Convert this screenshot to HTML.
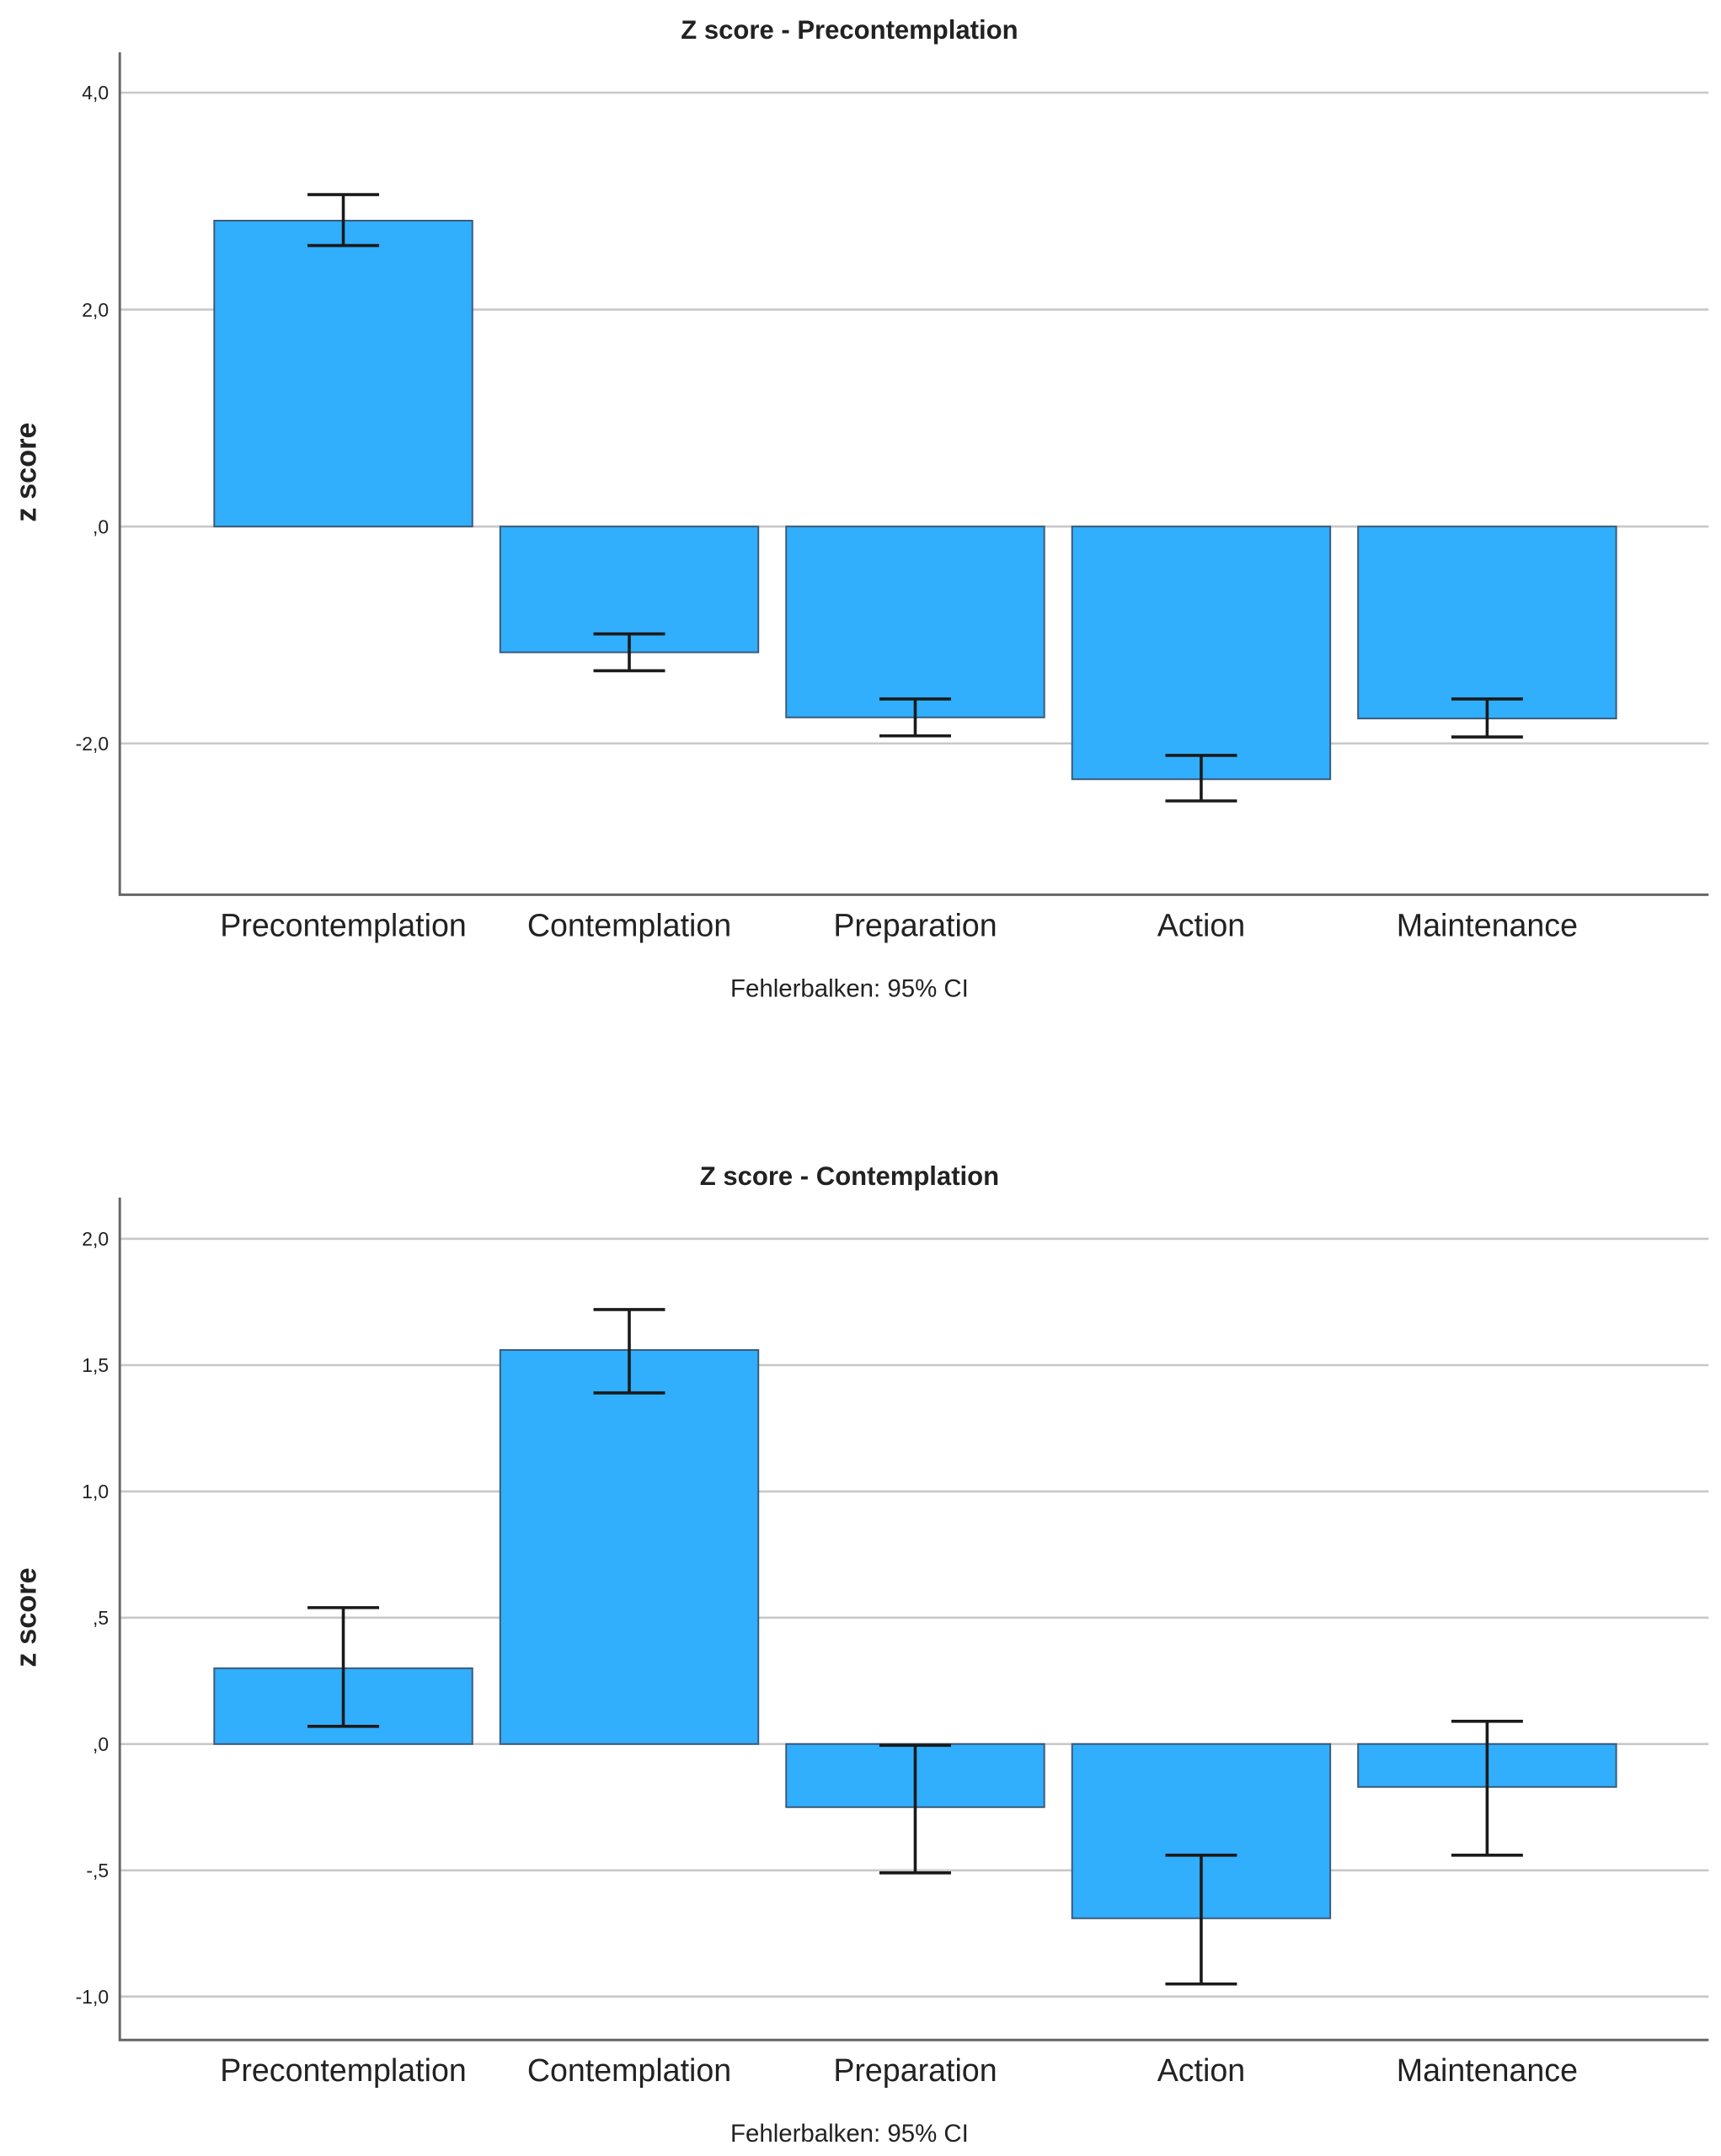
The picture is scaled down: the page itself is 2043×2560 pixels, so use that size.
<!DOCTYPE html>
<html><head><meta charset="utf-8"><style>
html,body{margin:0;padding:0;background:#fff;width:2043px;height:2560px;overflow:hidden}
svg{display:block}
text{font-family:"Liberation Sans",sans-serif;fill:#222}
</style></head><body>
<svg id="root" width="2043" height="2560" viewBox="0 0 1250 1566.3" preserveAspectRatio="none" xmlns="http://www.w3.org/2000/svg"></svg>
<script>
const categories = ["Precontemplation","Contemplation","Preparation","Action","Maintenance"];
const c1Values = [2.82,-1.16,-1.76,-2.33,-1.77];
const c1Upper = [3.06,-0.99,-1.59,-2.11,-1.59];
const c1Lower = [2.59,-1.33,-1.93,-2.53,-1.94];
const c1Ticks = [4,2,0,-2];
const c1TickLabels = ["4,0","2,0",",0","-2,0"];
const c2Values = [0.30,1.56,-0.25,-0.69,-0.17];
const c2Upper = [0.54,1.72,-0.005,-0.44,0.09];
const c2Lower = [0.07,1.39,-0.51,-0.95,-0.44];
const c2Ticks = [2,1.5,1,0.5,0,-0.5,-1];
const c2TickLabels = ["2,0","1,5","1,0",",5",",0","-,5","-1,0"];

const NS="http://www.w3.org/2000/svg";
const root=document.getElementById('root');
function mk(tag,attrs,parent){const e=document.createElementNS(NS,tag);for(const k in attrs)e.setAttribute(k,attrs[k]);parent.appendChild(e);return e;}

function drawChart(cfg){
  const g=mk('g',{},root);
  
  
  const yScale=v=>cfg.zeroY-v*cfg.ppu;
  const bandStart=145.5, band=207.7, barW=187.5;
  const xCenter=i=>bandStart+band*i+band/2;
  // gridlines
  cfg.ticks.forEach((t,i)=>{
    const y=yScale(t);
    const l=mk('line',{x1:87,x2:1241,y1:y,y2:y,stroke:'#c8c8c8','stroke-width':1.6},g);
    
    
    const tx=mk('text',{x:79,y:y+5,'font-size':14,'text-anchor':'end'},g);
    tx.textContent=cfg.tickLabels[i];
    
    
  });
  // bars
  cfg.values.forEach((v,i)=>{
    const y0=yScale(0), y1=yScale(v);
    const r=mk('rect',{x:xCenter(i)-barW/2,y:Math.min(y0,y1),width:barW,height:Math.abs(y1-y0),fill:'#31aefc',stroke:'#3a5a78','stroke-width':1.2},g);
    
    
  });
  // error bars
  cfg.values.forEach((v,i)=>{
    const cx=xCenter(i), yu=yScale(cfg.upper[i]), yl=yScale(cfg.lower[i]);
    const eg=mk('g',{stroke:'#1a1a1a','stroke-width':2.2},g);
    
    
    mk('line',{x1:cx,x2:cx,y1:yu,y2:yl},eg);
    mk('line',{x1:cx-26,x2:cx+26,y1:yu,y2:yu},eg);
    mk('line',{x1:cx-26,x2:cx+26,y1:yl,y2:yl},eg);
  });
  // axes
  const ax=mk('path',{d:`M87 ${cfg.top} V${cfg.bottom} H1241`,fill:'none',stroke:'#666','stroke-width':1.8},g);
  
  
  categories.forEach((c,i)=>{
    const t=mk('text',{x:xCenter(i),y:cfg.bottom+30,'font-size':23,'text-anchor':'middle'},g);
    t.textContent=c;
    
    
  });
  const ti=mk('text',{x:617,y:cfg.titleY,'font-size':19,'font-weight':'bold','text-anchor':'middle'},g);
  ti.textContent=cfg.title;
  
  
  const yt=mk('text',{x:0,y:0,'font-size':21,'font-weight':'bold','text-anchor':'middle',transform:`translate(26 ${cfg.yTitleY}) rotate(-90)`},g);
  yt.textContent='z score';
  
  
  const fn=mk('text',{x:617,y:cfg.bottom+74,'font-size':18,'text-anchor':'middle'},g);
  fn.textContent='Fehlerbalken: 95% CI';
  
  
}
drawChart({name:'chart-precontemplation',title:'Z score - Precontemplation',values:c1Values,upper:c1Upper,lower:c1Lower,ticks:c1Ticks,tickLabels:c1TickLabels,zeroY:382.5,ppu:78.8,top:38,bottom:650,titleY:28,yTitleY:343});
drawChart({name:'chart-contemplation',title:'Z score - Contemplation',values:c2Values,upper:c2Upper,lower:c2Lower,ticks:c2Ticks,tickLabels:c2TickLabels,zeroY:1267,ppu:183.5,top:870,bottom:1482,titleY:861,yTitleY:1175});
</script>
</body></html>
